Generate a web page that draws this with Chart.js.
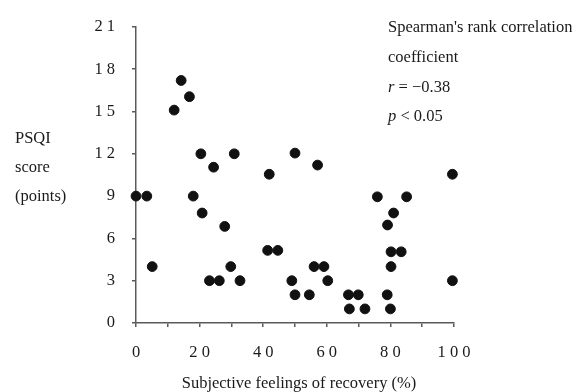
<!DOCTYPE html>
<html>
<head>
<meta charset="utf-8">
<script src="https://cdn.jsdelivr.net/npm/chart.js@4/dist/chart.umd.min.js"></script>
<style>
  html, body { margin: 0; padding: 0; background: #fff; }
  #wrap { width: 579px; height: 392px; position: relative; }
</style>
</head>
<body>
<div id="wrap"><canvas id="myChart"></canvas></div>
<script>
// recovery (%) vs PSQI score
var recovery = [0, 3.4, 5.1, 12, 14.2, 16.8, 18, 20.4, 20.8, 23.1, 24.4, 26.2, 27.9, 29.8,
  30.9, 32.7, 41.4, 41.9, 44.6, 49, 50, 50, 54.5, 56, 57.1, 59.1, 60.3, 66.8, 67.1, 69.9,
  72, 75.9, 79, 79.1, 80, 80.2, 80.2, 81, 83.4, 85.1, 99.5, 99.5];
var psqi = [9, 9, 4, 15.1, 17.2, 16.05, 9, 12, 7.8, 3, 11.05, 3, 6.85, 4,
  12, 3, 5.15, 10.55, 5.15, 3, 2, 12.05, 2, 4, 11.2, 4, 3, 2, 1, 2,
  1, 8.95, 2, 6.95, 1, 4, 5.05, 7.8, 5.05, 8.95, 10.55, 3];

var yTitleLines = ["PSQI", "score", "(points)"];
var xTitle = "Subjective feelings of recovery (%)";
var statLines = ["Spearman's rank correlation", "coefficient"];
var statR = "\u22120.38";
var statP = "0.05";

var serif = "'Liberation Serif', 'Times New Roman', serif";
var fontSize = 16.5;
var axisGray = "#5a5a5a";
var textColor = "#1a1a1a";

var points = recovery.map(function (x, i) {
  return { x: x, y: psqi[i] };
});

// spaced digits like "2 1"
function spaced(v) {
  return String(v).split("").join(" ");
}

// italic letter followed by the rest in roman
function mixed(ctx, letter, rest, x, y) {
  ctx.font = "italic " + fontSize + "px " + serif;
  ctx.fillText(letter, x, y);
  var w = ctx.measureText(letter).width;
  ctx.font = fontSize + "px " + serif;
  ctx.fillText(rest, x + w, y);
}

// texts that chart.js can't place the way the figure does
var textPlugin = {
  id: "texts",
  afterDraw: function (chart) {
    var ctx = chart.ctx;
    ctx.save();
    ctx.fillStyle = textColor;
    ctx.textBaseline = "alphabetic";
    ctx.textAlign = "left";
    ctx.font = fontSize + "px " + serif;

    // horizontal y title at left
    ctx.fillText(yTitleLines[0], 15, 143);
    ctx.fillText(yTitleLines[1], 15, 172);
    ctx.fillText(yTitleLines[2], 15, 201);

    // x title
    ctx.textAlign = "center";
    ctx.fillText(xTitle, 299, 388);

    // statistics
    ctx.textAlign = "left";
    var sx = 388;
    ctx.fillText(statLines[0], sx, 32);
    ctx.fillText(statLines[1], sx, 62);
    mixed(ctx, "r", " = " + statR, sx, 92);
    mixed(ctx, "p", " < " + statP, sx, 121);
    ctx.restore();
  }
};

var ctx = document.getElementById("myChart").getContext("2d");
new Chart(ctx, {
  type: "scatter",
  data: {
    datasets: [{
      data: points,
      backgroundColor: "#111",
      borderColor: "#111",
      pointRadius: 4.9,
      pointHoverRadius: 4.9,
      clip: false
    }]
  },
  options: {
    responsive: true,
    maintainAspectRatio: false,
    animation: false,
    layout: { padding: { left: 0, right: 125, top: 22, bottom: 0 } },
    plugins: { legend: { display: false }, tooltip: { enabled: false } },
    scales: {
      x: {
        type: "linear",
        min: 0,
        max: 100,
        afterFit: function (s) { s.height = 69; },
        border: { color: axisGray, width: 1.5 },
        grid: { drawOnChartArea: false, drawTicks: true, tickLength: 4, color: axisGray, lineWidth: 1.5 },
        ticks: {
          stepSize: 10,
          padding: 16,
          color: textColor,
          font: { family: serif, size: fontSize },
          maxRotation: 0,
          autoSkip: false,
          callback: function (v) { return v % 20 === 0 ? spaced(v) : ""; }
        }
      },
      y: {
        type: "linear",
        min: 0,
        max: 21,
        afterFit: function (s) { s.width = 136; },
        border: { color: axisGray, width: 1.5 },
        grid: { drawOnChartArea: false, drawTicks: true, tickLength: 4, color: axisGray, lineWidth: 1.5 },
        ticks: {
          stepSize: 3,
          padding: 17,
          color: textColor,
          font: { family: serif, size: fontSize },
          callback: function (v) { return spaced(v); }
        }
      }
    }
  },
  plugins: [textPlugin]
});
</script>
</body>
</html>
